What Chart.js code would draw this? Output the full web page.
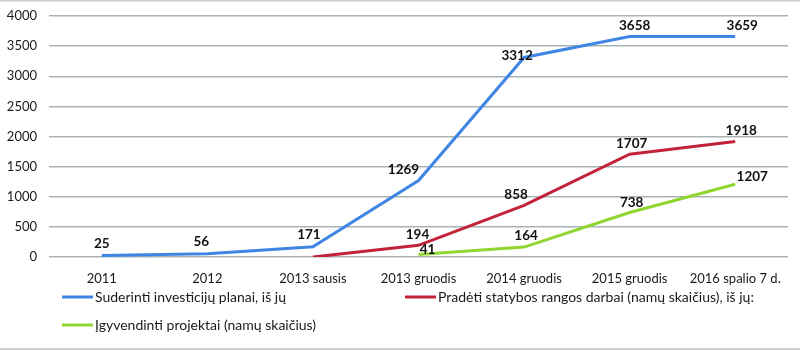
<!DOCTYPE html>
<html>
<head>
<meta charset="utf-8">
<script src="https://cdn.jsdelivr.net/npm/chart.js@4"></script>
<style>
  html, body { margin: 0; padding: 0; background: #fff; }
  #wrap { width: 800px; height: 353px; position: relative; }
</style>
</head>
<body>
<div id="wrap"><canvas id="c" width="800" height="353"></canvas></div>
<script>
const categories = ['2011', '2012', '2013 sausis', '2013 gruodis', '2014 gruodis', '2015 gruodis', '2016 spalio 7 d.'];
const seriesNames = [
  'Suderinti investicijų planai, iš jų',
  'Pradėti statybos rangos darbai (namų skaičius), iš jų:',
  'Įgyvendinti projektai (namų skaičius)'
];
const planai = [25, 56, 171, 1269, 3312, 3658, 3659];
const pradeti = [null, null, 0, 194, 858, 1707, 1918];
const igyvendinti = [null, null, null, 41, 164, 738, 1207];
const showLabel = [
  [true, true, true, true, true, true, true],
  [false, false, false, true, true, true, true],
  [false, false, false, true, true, true, true]
];
const yTicks = [0, 500, 1000, 1500, 2000, 2500, 3000, 3500, 4000];

// label placement tweaks (style only)
const labelDx = [
  [0, -6, -4, -15, -7, 5, 7],
  [0, 0, 0, -1, -8, 2, 6],
  [0, 0, 0, 9, 2, 2, 17]
];
const labelDy = [
  [-8, -8, -8, -7, 2, -7, -7],
  [0, 0, 0, -7, -7, -7, -7],
  [0, 0, 0, -1, -7, -6, -4]
];

const colors = ['#3f86e4', '#c2233b', '#8fd631'];
const FONT = 'Lato, "Open Sans", sans-serif';

const labelPlugin = {
  id: 'valueLabels',
  afterDatasetsDraw(chart) {
    const ctx = chart.ctx;
    ctx.save();
    ctx.font = 'bold 13.5px ' + FONT;
    ctx.fillStyle = '#111';
    ctx.textAlign = 'center';
    ctx.textBaseline = 'middle';
    chart.data.datasets.forEach((ds, di) => {
      const meta = chart.getDatasetMeta(di);
      meta.data.forEach((pt, i) => {
        const v = ds.data[i];
        if (v === null || !showLabel[di][i]) return;
        ctx.fillText(String(v), pt.x + labelDx[di][i], pt.y + labelDy[di][i] - 4);
      });
    });
    ctx.restore();
  }
};

const framePlugin = {
  id: 'frameLegend',
  beforeDraw(chart) {
    const ctx = chart.ctx;
    ctx.save();
    ctx.fillStyle = '#fff';
    ctx.fillRect(0, 0, chart.width, chart.height);
    ctx.strokeStyle = '#c9cfcf';
    ctx.lineWidth = 2;
    ctx.beginPath();
    ctx.moveTo(0, 0.5); ctx.lineTo(chart.width, 0.5);
    ctx.stroke();
    ctx.strokeStyle = '#cdd3d3';
    ctx.lineWidth = 2;
    ctx.beginPath();
    ctx.moveTo(0, 349); ctx.lineTo(chart.width, 349);
    ctx.stroke();
    ctx.restore();
  },
  afterDraw(chart) {
    const ctx = chart.ctx;
    const items = [
      { x: 62, y: 297 },
      { x: 405, y: 297 },
      { x: 62, y: 325 }
    ];
    ctx.save();
    ctx.font = '14px ' + FONT;
    ctx.textBaseline = 'middle';
    ctx.textAlign = 'left';
    items.forEach((it, i) => {
      ctx.strokeStyle = colors[i];
      ctx.lineWidth = 3;
      ctx.beginPath();
      ctx.moveTo(it.x, it.y);
      ctx.lineTo(it.x + 31, it.y);
      ctx.stroke();
      ctx.fillStyle = '#1a1a1a';
      ctx.fillText(seriesNames[i], it.x + 33, it.y);
    });
    ctx.restore();
  }
};

const values = [planai, pradeti, igyvendinti];

new Chart(document.getElementById('c'), {
  type: 'line',
  data: {
    labels: categories,
    datasets: values.map((d, i) => ({
      label: seriesNames[i],
      data: d,
      borderColor: colors[i],
      backgroundColor: colors[i],
      borderWidth: 3,
      pointRadius: 0,
      pointHoverRadius: 0,
      tension: 0,
      spanGaps: false
    }))
  },
  options: {
    responsive: false,
    animation: false,
    devicePixelRatio: 1,
    layout: { padding: { left: 0, right: 12, top: 16, bottom: 0 } },
    plugins: {
      legend: { display: false },
      tooltip: { enabled: false },
      title: { display: false }
    },
    scales: {
      x: {
        offset: true,
        grid: { display: false },
        border: { display: false },
        ticks: {
          color: '#1a1a1a',
          font: { family: FONT, size: 13 },
          padding: 6,
          maxRotation: 0,
          autoSkip: false
        },
        afterFit(scale) { scale.height = 96; scale.paddingLeft = 0; scale.paddingRight = 0; }
      },
      y: {
        min: 0,
        max: 4000,
        afterBuildTicks(scale) { scale.ticks = yTicks.map(v => ({ value: v })); },
        grid: { color: '#a9b3b3', lineWidth: 1.5, drawTicks: false },
        border: { display: false },
        ticks: {
          color: '#1a1a1a',
          font: { family: FONT, size: 13 },
          padding: 12,
          callback: (v) => String(v)
        },
        afterFit(scale) { scale.width = 49; scale.paddingTop = 0; scale.paddingBottom = 0; }
      }
    }
  },
  plugins: [labelPlugin, framePlugin]
});
</script>
</body>
</html>
